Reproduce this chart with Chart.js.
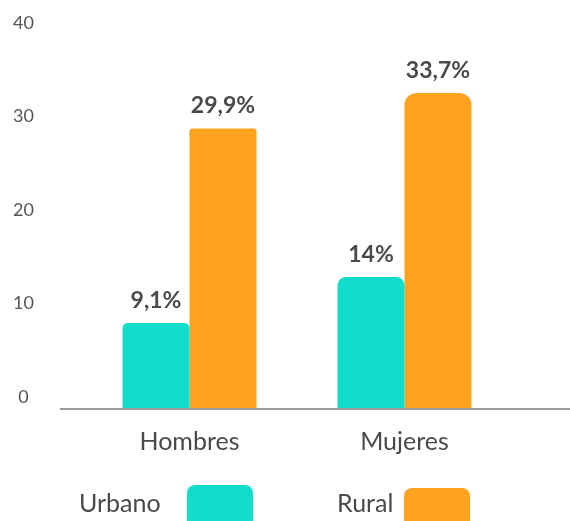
<!DOCTYPE html>
<html lang="es">
<head>
    <meta charset="UTF-8">
    <title>Urbano / Rural</title>
    <script src="https://cdn.jsdelivr.net/npm/chart.js"></script>
    <style>
        body {
            margin: 0;
            padding: 0;
            background-color: #ffffff;
        }
        .chart-box {
            width: 570px;
            height: 521px;
            position: relative;
        }
    </style>
</head>
<body>
    <div class="chart-box">
        <canvas id="barChart"></canvas>
    </div>

    <script>
        // Chart data
        const categories = ['Hombres', 'Mujeres'];
        const seriesNames = ['Urbano', 'Rural'];
        const urbanoValues = [9.1, 14];
        const ruralValues = [29.9, 33.7];
        const yTickValues = [0, 10, 20, 30, 40];

        const TEAL = '#10ddca';
        const ORANGE = '#ffa21f';
        const TEXT_DARK = '#4a4a4a';
        const FONT = 'Lato, "Open Sans", sans-serif';

        // "9.1" -> "9,1%"
        function pct(v) {
            return String(v).replace('.', ',') + '%';
        }

        // Value labels above each bar
        const valueLabels = {
            id: 'valueLabels',
            afterDatasetsDraw(chart) {
                const ctx = chart.ctx;
                ctx.save();
                ctx.font = 'bold 23px ' + FONT;
                ctx.fillStyle = TEXT_DARK;
                ctx.textAlign = 'center';
                ctx.textBaseline = 'alphabetic';
                chart.data.datasets.forEach((ds, i) => {
                    chart.getDatasetMeta(i).data.forEach((bar, j) => {
                        ctx.fillText(pct(ds.data[j]), bar.x, bar.y - 15);
                    });
                });
                ctx.restore();
            }
        };

        // Grey base line, runs past the plot on both sides
        const baseLine = {
            id: 'baseLine',
            afterDatasetsDraw(chart) {
                const ctx = chart.ctx;
                const y = chart.chartArea.bottom + 1;
                ctx.save();
                ctx.strokeStyle = '#9d989a';
                ctx.lineWidth = 2;
                ctx.beginPath();
                ctx.moveTo(chart.chartArea.left - 22, y);
                ctx.lineTo(chart.width, y);
                ctx.stroke();
                ctx.restore();
            }
        };

        // Legend: text first, then a rounded swatch
        const sideLegend = {
            id: 'sideLegend',
            afterDraw(chart, args, opts) {
                const ctx = chart.ctx;
                ctx.save();
                ctx.font = '25px ' + FONT;
                ctx.textAlign = 'left';
                ctx.textBaseline = 'alphabetic';
                chart.data.datasets.forEach((ds, i) => {
                    const item = opts.items[i];
                    ctx.fillStyle = TEXT_DARK;
                    ctx.fillText(ds.label, item.textX, opts.textY);
                    ctx.fillStyle = ds.backgroundColor;
                    ctx.beginPath();
                    ctx.roundRect(item.boxX, item.boxY, opts.boxW, opts.boxH, 8);
                    ctx.fill();
                });
                ctx.restore();
            }
        };

        new Chart(document.getElementById('barChart'), {
            type: 'bar',
            data: {
                labels: categories,
                datasets: [
                    {
                        label: seriesNames[0],
                        data: urbanoValues,
                        backgroundColor: TEAL,
                        borderRadius: [5, 8],
                        borderSkipped: 'start'
                    },
                    {
                        label: seriesNames[1],
                        data: ruralValues,
                        backgroundColor: ORANGE,
                        borderRadius: [3, 12],
                        borderSkipped: 'start'
                    }
                ]
            },
            options: {
                responsive: true,
                maintainAspectRatio: false,
                animation: false,
                layout: {
                    padding: { top: 34, right: 58, left: 0, bottom: 0 }
                },
                datasets: {
                    bar: {
                        categoryPercentage: 0.623,
                        barPercentage: 1.0
                    }
                },
                scales: {
                    x: {
                        grid: { display: false },
                        border: { display: false },
                        ticks: {
                            color: TEXT_DARK,
                            font: { family: FONT, size: 25 },
                            padding: 11
                        },
                        afterFit(scale) {
                            scale.height = 113;
                        }
                    },
                    y: {
                        min: 0,
                        max: 40,
                        afterBuildTicks(scale) {
                            scale.ticks = yTickValues.map(v => ({ value: v }));
                        },
                        grid: { display: false },
                        border: { display: false },
                        ticks: {
                            color: '#555555',
                            font: { family: FONT, size: 18 },
                            crossAlign: 'center',
                            padding: 40,
                            labelOffset: -11
                        },
                        afterFit(scale) {
                            // wide label padding only pushes labels left,
                            // it should not shrink the plot vertically
                            scale.width = 82;
                            scale.paddingTop = 0;
                            scale.paddingBottom = 0;
                        }
                    }
                },
                plugins: {
                    legend: { display: false },
                    tooltip: { enabled: false },
                    sideLegend: {
                        textY: 512,
                        boxW: 66,
                        boxH: 44,
                        items: [
                            { textX: 79, boxX: 187, boxY: 485 },
                            { textX: 337, boxX: 404, boxY: 488 }
                        ]
                    }
                }
            },
            plugins: [valueLabels, baseLine, sideLegend]
        });
    </script>
</body>
</html>
